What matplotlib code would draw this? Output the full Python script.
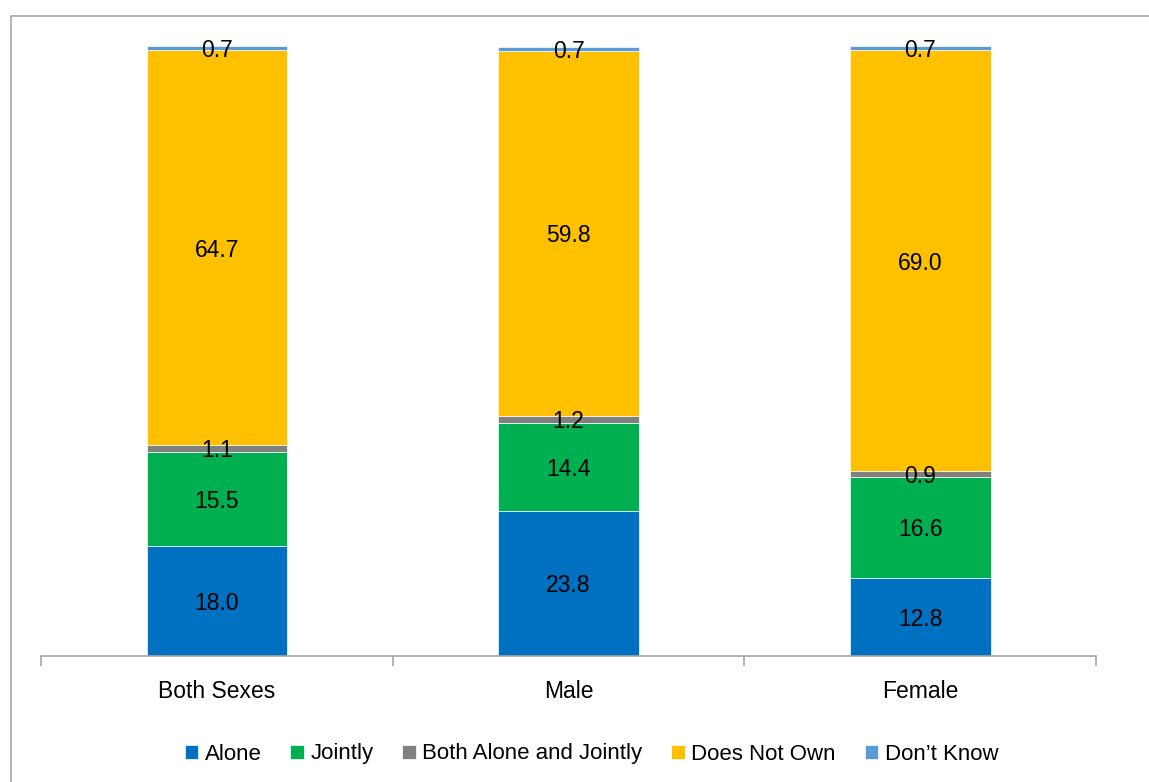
import matplotlib

matplotlib.use("Agg")
import matplotlib.pyplot as plt
from matplotlib.patches import Rectangle
import numpy as np

categories = ["Both Sexes", "Male", "Female"]
series = ["Alone", "Jointly", "Both Alone and Jointly", "Does Not Own", "Don\u2019t Know"]
alone = [18.0, 23.8, 12.8]
jointly = [15.5, 14.4, 16.6]
both = [1.1, 1.2, 0.9]
not_own = [64.7, 59.8, 69.0]
dont_know = [0.7, 0.7, 0.7]

colors = ["#0070C0", "#00B050", "#808080", "#FFC000", "#5B9BD5"]

plt.rcParams["font.family"] = ["Liberation Sans Narrow", "Liberation Sans", "DejaVu Sans"]

fig = plt.figure(figsize=(11.49, 7.82), dpi=100)
ax = fig.add_axes([41 / 1149, 126 / 782, 1055 / 1149, 610 / 782])

# outer frame (chart area border)
fig.patches.append(Rectangle((11 / 1149, -0.1), 2, 1.1 + (766 / 782 - 1), transform=fig.transFigure,
                             fill=False, edgecolor="#A6A6A6", linewidth=1.2))

x = np.arange(len(categories))
bottom = np.zeros(len(categories))
for name, vals, c in zip(series, [alone, jointly, both, not_own, dont_know], colors):
    vals = np.array(vals)
    ax.bar(x, vals, 0.4, bottom=bottom, color=c, label=name, edgecolor="white", linewidth=0.5)
    for xi, b, v in zip(x, bottom, vals):
        ax.text(xi, b + v / 2, f"{v:.1f}", ha="center", va="center_baseline", fontsize=16.5,
                color="black")
    bottom += vals

ax.set_xlim(-0.5, 2.5)
ax.set_ylim(0, 100)
ax.set_yticks([])
for s in ["left", "top", "right"]:
    ax.spines[s].set_visible(False)
ax.spines["bottom"].set_color("#A6A6A6")
ax.spines["bottom"].set_linewidth(1.2)
ax.set_xticks(x)
ax.set_xticklabels(categories, fontsize=16.5)
ax.tick_params(axis="x", which="major", length=0, pad=17)
ax.set_xticks([-0.5, 0.5, 1.5, 2.5], minor=True)
ax.tick_params(axis="x", which="minor", length=7, color="#A6A6A6", width=1.2)

fig.legend(loc="center", bbox_to_anchor=(0.5148, 28 / 782), ncol=5, frameon=False, fontsize=16,
           handlelength=0.6, handleheight=0.6, handletextpad=0.3, columnspacing=1.3)

fig.savefig("out.png", dpi=100)
